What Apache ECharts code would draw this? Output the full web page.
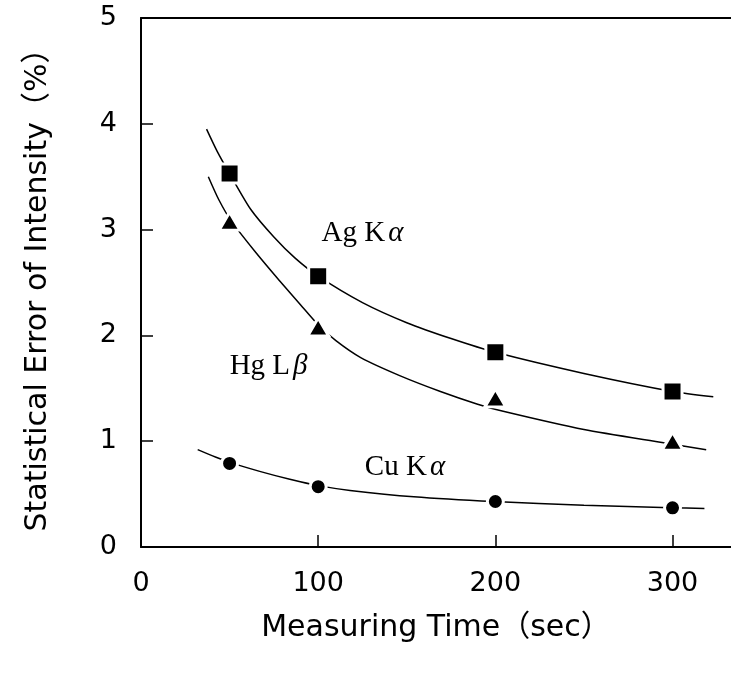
<!DOCTYPE html>
<html>
<head>
<meta charset="utf-8">
<script src="https://cdn.jsdelivr.net/npm/echarts@6/dist/echarts.min.js"></script>
<style>
  html, body { margin: 0; padding: 0; background: #fff; }
  #container { width: 731px; height: 679px; }
</style>
</head>
<body>
<div id="container"></div>
<script>
// measured points (sec, %)
const markerTimes = [50, 100, 200, 300];
const agMarks = [3.53, 2.56, 1.84, 1.47];
const hgMarks = [3.08, 2.08, 1.41, 1.0];
const cuMarks = [0.79, 0.57, 0.43, 0.37];

// fitted curves
const agCurveT = [37, 43, 50, 62, 75, 87, 100, 125, 150, 175, 200, 250, 300, 323];
const agCurve = [3.95, 3.74, 3.53, 3.19, 2.93, 2.73, 2.56, 2.31, 2.12, 1.97, 1.84, 1.64, 1.47, 1.42];
const hgCurveT = [38, 44, 51, 64, 77, 90, 100, 110, 124, 146, 169, 190, 205, 250, 295, 319];
const hgCurve = [3.50, 3.28, 3.08, 2.80, 2.54, 2.29, 2.10, 1.95, 1.79, 1.62, 1.47, 1.35, 1.28, 1.11, 0.985, 0.92];
const cuCurveT = [32, 42, 51, 67, 84, 100, 118, 154, 199, 250, 299, 318];
const cuCurve = [0.92, 0.85, 0.795, 0.715, 0.64, 0.58, 0.535, 0.475, 0.43, 0.395, 0.372, 0.365];

const xTicks = [0, 100, 200, 300];
const yTicks = [0, 1, 2, 3, 4, 5];

const dom = document.getElementById("container");
const myChart = echarts.init(dom, null, { renderer: "canvas" });

const sans = '"DejaVu Sans", "Noto Sans CJK JP", sans-serif';
const serif = '"Liberation Serif", serif';

function pairs(xs, ys) {
  return xs.map((x, i) => [x, ys[i]]);
}

function curve(xs, ys) {
  return {
    type: "line",
    data: pairs(xs, ys),
    smooth: 0.25,
    symbol: "none",
    lineStyle: { color: "#000", width: 1.5 },
    z: 2,
    silent: true,
  };
}

function marks(ys, symbol, size) {
  return {
    type: "scatter",
    data: pairs(markerTimes, ys),
    symbol: symbol,
    symbolSize: size,
    itemStyle: { color: "#000", opacity: 1, borderColor: "#fff", borderWidth: 3 },
    z: 3,
    silent: true,
  };
}

// series name label, anchored in data coordinates
function nameLabel(text, greek, coord) {
  return {
    type: "scatter",
    data: [coord],
    symbolSize: 0,
    silent: true,
    label: {
      show: true,
      position: "inside",
      opacity: 1,
      formatter: "{a|" + text + "}{i|" + greek + "}",
      rich: {
        a: { fontFamily: serif, fontSize: 29, color: "#000" },
        i: { fontFamily: serif, fontSize: 29, fontStyle: "italic", color: "#000", padding: [0, 0, 0, 3] },
      },
    },
  };
}

const option = {
  animation: false,
  backgroundColor: "#fff",
  grid: {
    left: 141,
    right: 0,
    top: 18,
    bottom: 132,
    containLabel: false,
    outerBoundsMode: "none",
  },
  xAxis: [
    {
      type: "value",
      min: 0,
      max: 333,
      interval: 100,
      name: "Measuring Time（sec）",
      nameLocation: "middle",
      nameGap: 66,
      nameTextStyle: { fontFamily: sans, fontSize: 30, color: "#000" },
      axisLine: { onZero: false, lineStyle: { color: "#000", width: 2 } },
      axisTick: { inside: true, length: 12, lineStyle: { color: "#000", width: 1.5 } },
      axisLabel: {
        margin: 23,
        fontFamily: sans,
        fontSize: 27,
        color: "#000",
        showMaxLabel: false,
        formatter: (v) => (xTicks.includes(v) ? String(v) : ""),
      },
      splitLine: { show: false },
    },
    {
      type: "value",
      position: "top",
      min: 0,
      max: 333,
      axisLine: { onZero: false, lineStyle: { color: "#000", width: 2 } },
      axisTick: { show: false },
      axisLabel: { show: false },
      splitLine: { show: false },
    },
  ],
  yAxis: {
    type: "value",
    min: 0,
    max: 5,
    interval: 1,
    name: "Statistical Error of Intensity（%）",
    nameLocation: "middle",
    nameGap: 88,
    nameTextStyle: { fontFamily: sans, fontSize: 30, color: "#000" },
    axisLine: { show: true, onZero: false, lineStyle: { color: "#000", width: 2 } },
    axisTick: { show: true, inside: true, length: 12, lineStyle: { color: "#000", width: 1.5 } },
    axisLabel: {
      margin: 24,
      fontFamily: sans,
      fontSize: 27,
      color: "#000",
      formatter: (v) => (yTicks.includes(v) ? String(v) : ""),
    },
    splitLine: { show: false },
  },
  series: [
    curve(agCurveT, agCurve),
    curve(hgCurveT, hgCurve),
    curve(cuCurveT, cuCurve),
    marks(agMarks, "rect", 19),
    marks(hgMarks, "triangle", [21, 18]),
    marks(cuMarks, "circle", 16),
    nameLabel("Ag K", "α", [125, 2.96]),
    nameLabel("Hg L", "β", [72, 1.71]),
    nameLabel("Cu K", "α", [149, 0.75]),
  ],
};

myChart.setOption(option);
window.addEventListener("resize", myChart.resize);
</script>
</body>
</html>
